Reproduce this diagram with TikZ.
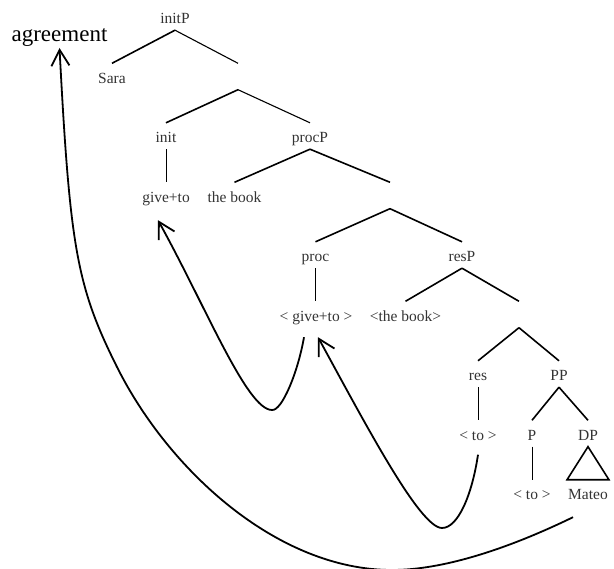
\documentclass[tikz,border=0pt]{standalone}
\usepackage{fontspec}
\setmainfont{Liberation Serif}
\usetikzlibrary{arrows.meta}
\begin{document}
\begin{tikzpicture}[x=1pt,y=-1pt,
  lbl/.style={anchor=base, inner xsep=1pt, inner ysep=0pt, text height=20pt,
    text depth=6pt, font=\fontsize{15.5}{18}\selectfont, text=black!80},
  branch/.style={line width=1.6pt},
  thinbranch/.style={line width=1.1pt},
  stem/.style={line width=0.9pt},
  move/.style={line width=1.8pt, -{Straight Barb[length=16pt,width=18pt]}},
]
\useasboundingbox (0,0) rectangle (614,569);

% tree labels (placed on their baselines)
\node[lbl] (initP) at (175,24) {initP};
\node[lbl] (sara) at (112,83.5) {Sara};
\node[lbl] (e1) at (238,83.5) {};
\node[lbl] (init) at (166,143) {init};
\node[lbl] (procP) at (310,143) {procP};
\node[lbl] (gt1) at (166,202.5) {give+to};
\node[lbl] (book1) at (234.5,202.5) {the book};
\node[lbl] (e2) at (390,202.5) {};
\node[lbl] (proc) at (315.5,262) {proc};
\node[lbl] (resP) at (462,262) {resP};
\node[lbl] (gt2) at (316,321.5) {< give+to >};
\node[lbl] (book2) at (405.5,321.5) {<the book>};
\node[lbl] (e3) at (519,321.5) {};
\node[lbl] (res) at (478,381) {res};
\node[lbl] (PP) at (559,381) {PP};
\node[lbl] (to1) at (478,440.5) {< to >};
\node[lbl] (P) at (532,440.5) {P};
\node[lbl] (DP) at (588,440.5) {DP};
\node[lbl] (to2) at (532,500) {< to >};
\node[lbl] (mateo) at (588,500) {Mateo};

\node[anchor=base, inner sep=0pt, font=\fontsize{23}{27}\selectfont] (agr) at (59.5,42) {agreement};

% branches
\draw[branch] (initP.south) -- (sara.north);
\draw[thinbranch] (initP.south) -- (e1.north);
\draw[branch] (e1.south) -- (init.north);
\draw[thinbranch] (e1.south) -- (procP.north);
\draw[stem] (init.south) -- (gt1.north);
\draw[branch] (procP.south) -- (book1.north);
\draw[branch] (procP.south) -- (e2.north);
\draw[branch] (e2.south) -- (proc.north);
\draw[branch] (e2.south) -- (resP.north);
\draw[stem] (proc.south) -- (proc.south |- gt2.north);
\draw[branch] (resP.south) -- (book2.north);
\draw[branch] (resP.south) -- (e3.north);
\draw[branch] (e3.south) -- (res.north);
\draw[branch] (e3.south) -- (PP.north);
\draw[stem] (res.south) -- (to1.north);
\draw[branch] (PP.south) -- (P.north);
\draw[branch] (PP.south) -- (DP.north);
\draw[stem] (P.south) -- (to2.north);
\draw[branch, line join=miter] (DP.south) -- ([xshift=-21pt]mateo.north)
  -- ([xshift=21pt]mateo.north) -- cycle;

% movement arrows
\draw[move] ([shift={(-12,9.5)}]gt2.south)
  .. controls (298,372) and (282,411) .. (272,410)
  .. controls (247,410) and (206,307) .. ([shift={(-8,11.5)}]gt1.south);
\draw[move] ([shift={(0,8)}]to1.south)
  .. controls (472,495) and (458,528) .. (442,528)
  .. controls (420,528) and (366,425) .. ([shift={(2,9.5)}]gt2.south);
\draw[move] ([shift={(-15,11)}]mateo.south)
  .. controls (520,543) and (450,570) .. (392,570)
  .. controls (277,570) and (168.4,469.8) .. (117,367)
  .. controls (76.8,286.5) and (70,248) .. ([shift={(0,6)}]agr.base);
\end{tikzpicture}
\end{document}
